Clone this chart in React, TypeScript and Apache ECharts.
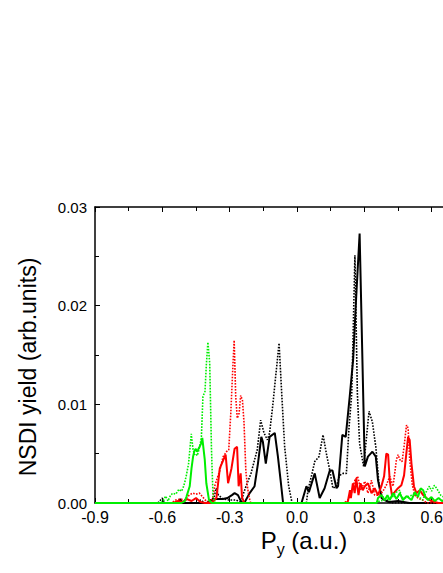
import React, { useEffect, useRef } from "react";
import * as echarts from "echarts";

const xTicks = [-0.9, -0.6, -0.3, 0.0, 0.3, 0.6, 0.9];
const yTicks = [0, 0.01, 0.02, 0.03];

const blackDotted: [number, number][] = [
  [-0.9, 0], [-0.62, 0], [-0.6, 0.0005], [-0.59, 0], [-0.44, 0], [-0.43, 0.0003], [-0.41, 0],
  [-0.37, 0.0005], [-0.36, 0.0015], [-0.35, 0.0008], [-0.33, 0.0004], [-0.3, 0.0003], [-0.27, 0.0003],
  [-0.25, 0], [-0.238, 0.001], [-0.227, 0.0017], [-0.205, 0.003], [-0.177, 0.0054], [-0.162, 0.0084],
  [-0.147, 0.0071], [-0.132, 0.0064], [-0.122, 0.0071], [-0.107, 0.0101], [-0.092, 0.0135],
  [-0.08, 0.0162], [-0.069, 0.0115], [-0.055, 0.0057], [-0.037, 0.0017], [-0.022, 0], [0.042, 0],
  [0.049, 0.0013], [0.064, 0.0027], [0.079, 0.0042], [0.098, 0.0047], [0.116, 0.0069], [0.131, 0.005],
  [0.146, 0.0033], [0.16, 0.0015], [0.176, 0.0017], [0.19, 0.0028], [0.205, 0.003], [0.22, 0.003],
  [0.232, 0.0077], [0.244, 0.0111], [0.258, 0.0251], [0.269, 0.0111], [0.279, 0.006], [0.297, 0.0037],
  [0.321, 0.0093], [0.336, 0.0082], [0.351, 0.0057], [0.365, 0.002], [0.377, 0.0008], [0.39, 0.0003],
  [0.42, 0], [0.9, 0],
];

const blackSolid: [number, number][] = [
  [-0.9, 0], [-0.53, 0], [-0.52, 0.0004], [-0.51, 0], [-0.4, 0], [-0.38, 0.0003], [-0.36, 0.0004],
  [-0.33, 0.0004], [-0.31, 0.0005], [-0.29, 0.0008], [-0.278, 0.001], [-0.263, 0.0008], [-0.248, 0.0001],
  [-0.235, 0], [-0.211, 0.001], [-0.189, 0.0017], [-0.174, 0.004], [-0.159, 0.0067], [-0.152, 0.0062],
  [-0.139, 0.004], [-0.122, 0.0067], [-0.099, 0.0071], [-0.085, 0.0047], [-0.073, 0.0023], [-0.062, 0],
  [0.02, 0], [0.042, 0.0017], [0.053, 0.0011], [0.079, 0.003], [0.101, 0.0005], [0.123, 0.0015],
  [0.146, 0.0033], [0.158, 0.0033], [0.176, 0.0015], [0.183, 0.0017], [0.202, 0.0069], [0.217, 0.0067],
  [0.235, 0.0108], [0.25, 0.0145], [0.264, 0.021], [0.279, 0.0273], [0.302, 0.0037], [0.316, 0.0047],
  [0.336, 0.0052], [0.351, 0.0047], [0.361, 0.0023], [0.377, 0.0005], [0.39, 0.0003], [0.41, 0.0001],
  [0.45, 0.0002], [0.5, 0], [0.9, 0],
];

const redDotted: [number, number][] = [
  [-0.9, 0], [-0.56, 0], [-0.54, 0.0003], [-0.52, 0.0004], [-0.5, 0.0003], [-0.48, 0.0008],
  [-0.465, 0.001], [-0.45, 0.0009], [-0.435, 0.001], [-0.42, 0.0006], [-0.405, 0.0002], [-0.39, 0],
  [-0.375, 0.0005], [-0.367, 0.0017], [-0.344, 0.0033], [-0.329, 0.0047], [-0.314, 0.0052],
  [-0.304, 0.0054], [-0.295, 0.0091], [-0.285, 0.0142], [-0.28, 0.0165], [-0.273, 0.0108],
  [-0.266, 0.0086], [-0.258, 0.0091], [-0.251, 0.0109], [-0.243, 0.0104], [-0.236, 0.0081],
  [-0.228, 0.0033], [-0.221, 0.0017], [-0.214, 0.0006], [-0.206, 0], [0.21, 0], [0.227, 0.0003],
  [0.24, 0.0008], [0.258, 0.0023], [0.27, 0.0027], [0.285, 0.0013], [0.302, 0.0022], [0.316, 0.001],
  [0.332, 0.0023], [0.346, 0.0008], [0.369, 0.0008], [0.383, 0.0012], [0.398, 0.0018], [0.413, 0.0027],
  [0.428, 0.0017], [0.443, 0.0044], [0.45, 0.0049], [0.458, 0.0044], [0.468, 0.0042], [0.477, 0.0057],
  [0.488, 0.0079], [0.495, 0.0076], [0.502, 0.0044], [0.514, 0.0018], [0.525, 0.0008], [0.539, 0.0005],
  [0.56, 0.0003], [0.58, 0], [0.9, 0],
];

const redSolid: [number, number][] = [
  [-0.9, 0], [-0.55, 0], [-0.53, 0.0002], [-0.51, 0.0001], [-0.49, 0.0004], [-0.47, 0.0002],
  [-0.45, 0.0005], [-0.43, 0.0001], [-0.41, 0], [-0.381, 0], [-0.359, 0.0005], [-0.344, 0.0035],
  [-0.322, 0.0047], [-0.318, 0.0049], [-0.307, 0.002], [-0.292, 0.0035], [-0.278, 0.0055],
  [-0.267, 0.0057], [-0.26, 0.0017], [-0.251, 0.003], [-0.245, 0.0006], [-0.235, 0], [0.22, 0],
  [0.227, 0.0002], [0.236, 0.0013], [0.24, 0.0005], [0.249, 0.002], [0.257, 0.001], [0.264, 0.0025],
  [0.274, 0.0008], [0.283, 0.002], [0.293, 0.0013], [0.302, 0.0017], [0.316, 0.002], [0.332, 0.001],
  [0.346, 0.0015], [0.361, 0.0008], [0.376, 0.0017], [0.388, 0.0027], [0.398, 0.005], [0.406, 0.0049],
  [0.413, 0.0023], [0.423, 0.0008], [0.435, 0.0011], [0.45, 0.0015], [0.465, 0.0018], [0.477, 0.0028],
  [0.488, 0.0052], [0.495, 0.0067], [0.502, 0.0064], [0.51, 0.004], [0.521, 0.0017], [0.532, 0.001],
  [0.547, 0.0013], [0.562, 0.0008], [0.577, 0.0005], [0.599, 0.0002], [0.63, 0], [0.9, 0],
];

const greenDotted: [number, number][] = [
  [-0.9, 0], [-0.62, 0], [-0.6, 0.0001], [-0.585, 0.0007], [-0.575, 0.0002], [-0.563, 0.0008],
  [-0.553, 0.001], [-0.54, 0.0009], [-0.526, 0.0014], [-0.515, 0.0012], [-0.508, 0.0015], [-0.5, 0.0021],
  [-0.493, 0.0028], [-0.483, 0.004], [-0.477, 0.0055], [-0.471, 0.007], [-0.463, 0.0054],
  [-0.457, 0.0049], [-0.451, 0.005], [-0.444, 0.0048], [-0.437, 0.0054], [-0.431, 0.006],
  [-0.426, 0.0067], [-0.419, 0.0108], [-0.41, 0.0113], [-0.404, 0.014], [-0.397, 0.0163],
  [-0.389, 0.0142], [-0.381, 0.0054], [-0.374, 0.0006], [-0.365, 0], [0.35, 0], [0.369, 0.0002],
  [0.391, 0.0003], [0.421, 0.0005], [0.443, 0.0011], [0.458, 0.0013], [0.465, 0.0006], [0.48, 0.0005],
  [0.5, 0.0007], [0.515, 0.0008], [0.525, 0.001], [0.54, 0.0007], [0.56, 0.0003], [0.575, 0.0011],
  [0.59, 0.0017], [0.6, 0.0012], [0.612, 0.0018], [0.622, 0.0015], [0.64, 0.0008], [0.66, 0.0005],
  [0.7, 0.0002], [0.75, 0], [0.9, 0],
];

const greenSolid: [number, number][] = [
  [-0.9, 0], [-0.515, 0], [-0.5, 0.0002], [-0.493, 0.0006], [-0.478, 0.0017], [-0.47, 0.0035],
  [-0.463, 0.0047], [-0.457, 0.0053], [-0.451, 0.0055], [-0.446, 0.0052], [-0.441, 0.0054],
  [-0.434, 0.0057], [-0.428, 0.006], [-0.422, 0.0066], [-0.411, 0.0044], [-0.404, 0.002],
  [-0.392, 0.0003], [-0.38, 0], [0.355, 0], [0.361, 0.0005], [0.376, 0.0008], [0.391, 0.0003],
  [0.403, 0.0008], [0.413, 0.0003], [0.428, 0.001], [0.443, 0.0004], [0.458, 0.001], [0.472, 0.0003],
  [0.488, 0.0007], [0.51, 0.0003], [0.525, 0.0011], [0.539, 0.0006], [0.551, 0.0015], [0.562, 0.0013],
  [0.572, 0.0006], [0.584, 0.0003], [0.599, 0.0006], [0.614, 0.0002], [0.631, 0.0005], [0.646, 0.0002],
  [0.67, 0.0004], [0.7, 0.0001], [0.75, 0], [0.9, 0],
];

const FONT = "'Liberation Sans', Arial, sans-serif";

export default function App() {
  const ref = useRef<HTMLDivElement>(null);
  useEffect(() => {
    if (!ref.current) return;
    const chart = echarts.init(ref.current, undefined, { renderer: "svg" });
    const axisLine = { show: true, onZero: false, lineStyle: { color: "#000", width: 1.5 } };
    const tickStyle = { show: true, inside: true, length: 5, lineStyle: { color: "#000", width: 1 } };
    const minorTick = { show: true, splitNumber: 2, length: 4, lineStyle: { color: "#000", width: 1 } };
    const mk = (name: string, data: [number, number][], color: string, dotted: boolean) => ({
      type: "line",
      name,
      data,
      showSymbol: false,
      symbol: "none",
      clip: true,
      lineStyle: dotted
        ? { color, width: 1.6, type: [1.6, 1.4] }
        : { color, width: 2 },
    });
    chart.setOption({
      animation: false,
      backgroundColor: "#fff",
      grid: { left: 95, top: 207, width: 404, height: 296, containLabel: false },
      xAxis: [
        {
          type: "value",
          min: xTicks[0],
          max: xTicks[xTicks.length - 1],
          interval: 0.3,
          position: "bottom",
          axisLine,
          axisTick: tickStyle,
          minorTick: { ...minorTick },
          splitLine: { show: false },
          axisLabel: {
            color: "#000",
            fontSize: 16,
            fontFamily: FONT,
            margin: 6,
            formatter: (v: number) => v.toFixed(1),
          },
        },
        {
          type: "value",
          min: xTicks[0],
          max: xTicks[xTicks.length - 1],
          interval: 0.3,
          position: "top",
          axisLine,
          axisTick: tickStyle,
          minorTick: { ...minorTick },
          splitLine: { show: false },
          axisLabel: { show: false },
        },
      ],
      yAxis: [
        {
          type: "value",
          min: yTicks[0],
          max: yTicks[yTicks.length - 1],
          interval: 0.01,
          position: "left",
          axisLine,
          axisTick: tickStyle,
          minorTick: { ...minorTick },
          splitLine: { show: false },
          axisLabel: {
            color: "#000",
            fontSize: 15,
            fontFamily: FONT,
            margin: 8,
            formatter: (v: number) => v.toFixed(2),
          },
        },
        {
          type: "value",
          min: yTicks[0],
          max: yTicks[yTicks.length - 1],
          interval: 0.01,
          position: "right",
          axisLine,
          axisTick: tickStyle,
          minorTick: { ...minorTick },
          splitLine: { show: false },
          axisLabel: { show: false },
        },
      ],
      graphic: [
        {
          type: "text",
          x: 28,
          y: 367,
          rotation: Math.PI / 2,
          style: {
            text: "NSDI yield (arb.units)",
            fontSize: 23,
            fontFamily: FONT,
            fill: "#000",
            align: "center",
            verticalAlign: "middle",
          },
        },
        {
          type: "text",
          x: 304,
          y: 540,
          style: {
            text: "{p|P}{s|y}{p| (a.u.)}",
            fontFamily: FONT,
            fill: "#000",
            align: "center",
            verticalAlign: "middle",
            rich: {
              p: { fontSize: 24, fontFamily: FONT, fill: "#000", lineHeight: 34, verticalAlign: "middle" },
              s: { fontSize: 16, fontFamily: FONT, fill: "#000", lineHeight: 16, verticalAlign: "bottom" },
            },
          },
        },
      ],
      series: [
        mk("black dotted", blackDotted, "#000000", true),
        mk("black solid", blackSolid, "#000000", false),
        mk("red dotted", redDotted, "#ff0000", true),
        mk("red solid", redSolid, "#ff0000", false),
        mk("green dotted", greenDotted, "#00ee00", true),
        mk("green solid", greenSolid, "#00ee00", false),
      ],
    });
    return () => chart.dispose();
  }, []);
  return (
    <div
      style={{
        position: "fixed",
        left: 0,
        top: 0,
        width: 443,
        height: 573,
        overflow: "hidden",
        background: "#fff",
      }}
    >
      <div ref={ref} style={{ width: 520, height: 573 }} />
    </div>
  );
}
